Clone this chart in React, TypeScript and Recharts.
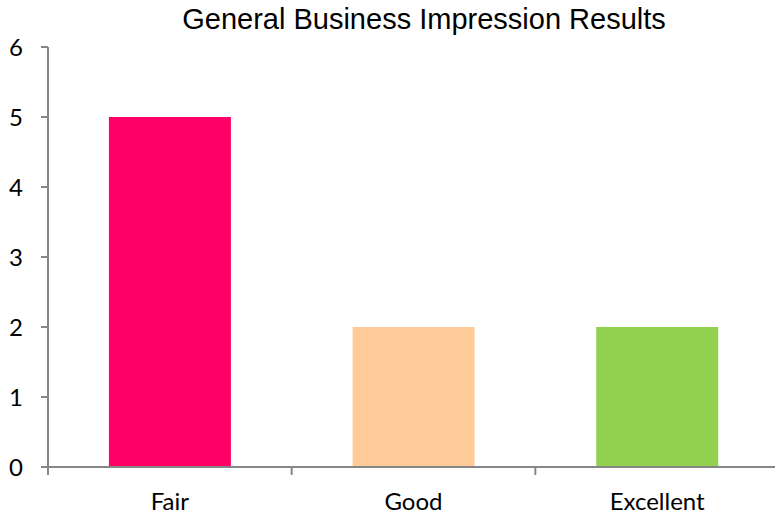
import { Bar, BarChart, Cell, XAxis, YAxis } from 'recharts'

const CATEGORIES = ['Fair', 'Good', 'Excellent']
const RESPONSES = [5, 2, 2]
const BAR_COLORS = ['#ff0066', '#ffcc99', '#92d050']
const Y_TICKS = [0, 1, 2, 3, 4, 5, 6]

const AXIS_COLOR = '#868686'
const LABEL_FONT = 'Lato, "Open Sans", sans-serif'
const LABEL_SIZE = 24
const X_TICK_SIZE = 8
const X_TICK_MARGIN = 18

const chartData = CATEGORIES.map((name, i) => ({ name, value: RESPONSES[i] }))

// category label in the middle, tick marks on the category edges (like Excel)
function EdgeTick(props: any) {
  const { x, y, payload, index, visibleTicksCount } = props
  const half = payload.offset ?? 0
  const axisY = y - X_TICK_SIZE - X_TICK_MARGIN
  const isLast = index === visibleTicksCount - 1
  return (
    <g>
      <line x1={x - half} x2={x - half} y1={axisY} y2={axisY + X_TICK_SIZE} stroke={AXIS_COLOR} strokeWidth={2} />
      {isLast && (
        <line x1={x + half} x2={x + half} y1={axisY} y2={axisY + X_TICK_SIZE} stroke={AXIS_COLOR} strokeWidth={2} />
      )}
      <text x={x} y={y} dy="0.71em" textAnchor="middle" fill="#000" fontSize={LABEL_SIZE} fontFamily={LABEL_FONT}>
        {payload.value}
      </text>
    </g>
  )
}

export default function App() {
  return (
    <>
      <style>{'body { margin: 0; }'}</style>
      <div style={{ width: 775, height: 514, overflow: 'hidden', position: 'relative', background: '#fff' }}>
        <div
          style={{
            position: 'absolute',
            top: 3,
            left: 424,
            transform: 'translateX(-50%)',
            whiteSpace: 'nowrap',
            fontFamily: '"Liberation Sans", Arial, sans-serif',
            fontSize: 29,
            color: '#000',
          }}
        >
          General Business Impression Results
        </div>
        <BarChart
          width={790}
          height={514}
          data={chartData}
          margin={{ top: 47, right: 11, bottom: 0, left: 0 }}
          barCategoryGap="25%"
          style={{ overflow: 'visible' }}
        >
          <XAxis
            dataKey="name"
            height={47}
            interval={0}
            axisLine={{ stroke: AXIS_COLOR, strokeWidth: 2 }}
            tickLine={false}
            tickSize={X_TICK_SIZE}
            tickMargin={X_TICK_MARGIN}
            tick={<EdgeTick />}
          />
          <YAxis
            width={48}
            domain={[0, 6]}
            ticks={Y_TICKS}
            interval={0}
            tickSize={7}
            tickMargin={18}
            axisLine={{ stroke: AXIS_COLOR, strokeWidth: 2 }}
            tickLine={{ stroke: AXIS_COLOR, strokeWidth: 2 }}
            tick={{ fill: '#000', fontSize: LABEL_SIZE, fontFamily: LABEL_FONT }}
          />
          <Bar dataKey="value" isAnimationActive={false}>
            {chartData.map((entry, i) => (
              <Cell key={entry.name} fill={BAR_COLORS[i]} />
            ))}
          </Bar>
        </BarChart>
      </div>
    </>
  )
}
